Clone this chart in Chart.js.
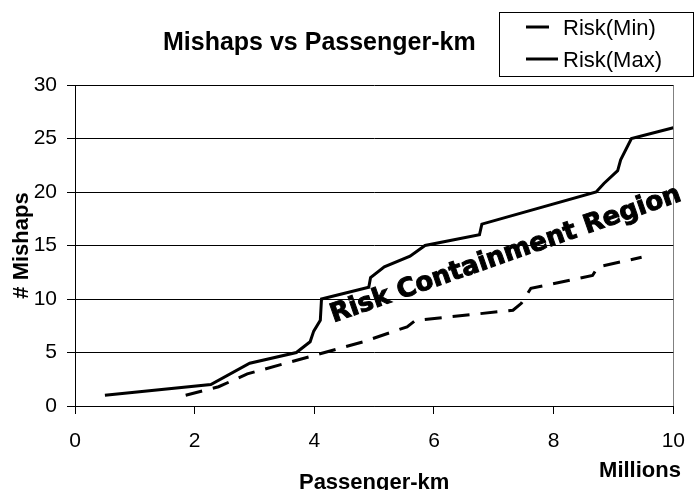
<!DOCTYPE html>
<html>
<head>
<meta charset="utf-8">
<script src="https://cdn.jsdelivr.net/npm/chart.js@4/dist/chart.umd.min.js"></script>
<style>
	body { margin: 0; background: #fff; }
	#wrap { width: 700px; height: 490px; }
</style>
</head>
<body>
<div id="wrap"><canvas id="canvas"></canvas></div>
<script>
// passenger-km (millions) and mishaps
var maxX = [0.5, 2.27, 2.92, 3.7, 3.93, 3.99, 4.1, 4.12, 4.91, 4.94, 5.17, 5.6, 5.85, 6.76, 6.8, 8.71, 8.84, 9.07, 9.12, 9.3, 10];
var maxY = [1, 2, 4, 5, 6, 7, 8, 10, 11.1, 12, 13, 14, 15, 16, 17, 20, 20.8, 22, 23, 25, 26];
var minX = [1.85, 2.4, 2.88, 4.82, 5.55, 5.69, 7.32, 7.46, 7.62, 8.65, 8.74, 9.47];
var minY = [1, 1.8, 3, 6, 7.4, 8, 8.95, 9.6, 11, 12.2, 13, 13.9];
var xTicks = [0, 2, 4, 6, 8, 10];
var yTicks = [0, 5, 10, 15, 20, 25, 30];

var FONT = "'Liberation Sans', Arial, sans-serif";

function toPoints(xs, ys) {
	var pts = [];
	for (var i = 0; i < xs.length; i++) {
		pts.push({x: xs[i], y: ys[i]});
	}
	return pts;
}

// title, legend, axis titles and the region label
var extras = {
	id: 'extras',
	afterDraw: function(chart) {
		var ctx = chart.ctx;
		var area = chart.chartArea;
		var xs = chart.scales.x, ys = chart.scales.y;
		ctx.save();
		ctx.fillStyle = '#000';
		ctx.textBaseline = 'middle';

		ctx.font = 'bold 25px ' + FONT;
		ctx.textAlign = 'left';
		ctx.fillText('Mishaps vs Passenger-km', 163, 43);

		// legend box
		ctx.strokeStyle = '#000';
		ctx.lineWidth = 1;
		ctx.strokeRect(499.5, 12.5, 194, 64);
		var rows = [27, 59];
		var lens = [23, 32];
		ctx.font = '22px ' + FONT;
		chart.data.datasets.forEach(function(ds, i) {
			ctx.beginPath();
			ctx.setLineDash([]);
			ctx.lineWidth = 3;
			ctx.moveTo(526, rows[i]);
			ctx.lineTo(526 + lens[i], rows[i]);
			ctx.stroke();
			ctx.fillText(ds.label, 563, rows[i] + 2);
		});

		// axis titles
		ctx.font = 'bold 22px ' + FONT;
		ctx.textAlign = 'center';
		ctx.fillText('Passenger-km', (area.left + area.right) / 2, 483);
		ctx.fillText('Millions', 640, 471);
		ctx.save();
		ctx.translate(22, (area.top + area.bottom) / 2);
		ctx.rotate(-Math.PI / 2);
		ctx.fillText('# Mishaps', 0, 0);
		ctx.restore();

		// region label between the two curves
		var px = xs.getPixelForValue(4.32), py = ys.getPixelForValue(7.8);
		ctx.translate(px, py);
		ctx.rotate(-19.3 * Math.PI / 180);
		ctx.font = 'bold 26px "DejaVu Sans", sans-serif';
		ctx.textAlign = 'left';
		ctx.textBaseline = 'alphabetic';
		ctx.lineWidth = 1;
		ctx.strokeStyle = '#000';
		ctx.strokeText('Risk Containment Region', 0, 0);
		ctx.fillText('Risk Containment Region', 0, 0);
		ctx.restore();
	}
};

var config = {
	type: 'line',
	data: {
		datasets: [{
			label: 'Risk(Min)',
			data: toPoints(minX, minY),
			borderColor: '#000',
			borderWidth: 3,
			borderDash: [17, 11],
			pointRadius: 0,
			fill: false
		}, {
			label: 'Risk(Max)',
			data: toPoints(maxX, maxY),
			borderColor: '#000',
			borderWidth: 3,
			pointRadius: 0,
			fill: false
		}]
	},
	options: {
		responsive: true,
		maintainAspectRatio: false,
		animation: false,
		layout: {
			padding: {left: 0, top: 85, right: 13, bottom: 0}
		},
		plugins: {
			legend: {display: false},
			title: {display: false},
			tooltip: {enabled: false}
		},
		scales: {
			x: {
				type: 'linear',
				min: 0,
				max: 10,
				afterFit: function(scale) { scale.height = 84; },
				afterBuildTicks: function(scale) {
					scale.ticks = xTicks.map(function(v) { return {value: v}; });
				},
				ticks: {
					color: '#000',
					padding: 15,
					maxRotation: 0,
					font: {family: FONT, size: 21}
				},
				grid: {
					color: function(c) { return c.index === xTicks.length - 1 ? '#808080' : 'rgba(0,0,0,0)'; },
					tickColor: '#000',
					tickLength: 8
				},
				border: {display: true, color: '#000', width: 1}
			},
			y: {
				type: 'linear',
				min: 0,
				max: 30,
				afterFit: function(scale) { scale.width = 75; },
				afterBuildTicks: function(scale) {
					scale.ticks = yTicks.map(function(v) { return {value: v}; });
				},
				ticks: {
					color: '#000',
					padding: 10,
					font: {family: FONT, size: 21}
				},
				grid: {
					color: '#000',
					tickColor: '#000',
					tickLength: 8
				},
				border: {display: true, color: '#000', width: 1}
			}
		}
	},
	plugins: [extras]
};

window.onload = function() {
	window.myLine = new Chart(document.getElementById('canvas'), config);
};
</script>
</body>
</html>
